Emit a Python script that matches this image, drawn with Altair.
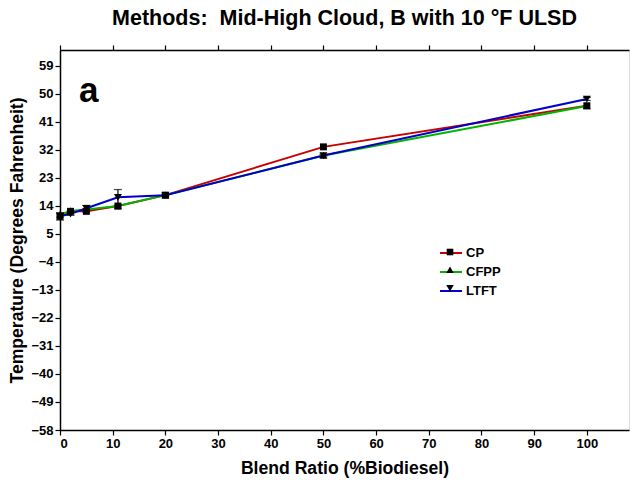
import altair as alt
import pandas as pd

blend = [0, 2, 5, 11, 20, 50, 100]
cp = [10.6, 12.2, 12.2, 13.9, 17.4, 32.9, 46.1]
cfpp = [11.2, 12.3, 12.8, 13.9, 17.4, 30.1, 46.0]
ltft = [10.6, 11.4, 13.2, 16.7, 17.4, 30.1, 48.3]
ltft_err = [1.2, 0.5, 0.9, 2.5, 0.3, 0.4, 0.5]

series = ["CP", "CFPP", "LTFT"]
colors = ["#c80000", "#00b400", "#0000c8"]
# small glyphs inside a unit box, so legend rows of both legends share one height
shapes = [
    "M-0.3,-0.3H0.3V0.3H-0.3Z",
    "M0,-0.32L0.34,0.28L-0.34,0.28Z",
    "M0,0.32L0.34,-0.28L-0.34,-0.28Z",
]
y_ticks = list(range(-58, 60, 9))
x_ticks = list(range(0, 101, 10))

# marker keys differ from line keys so the two legends are not merged
marker_keys = [s + " " for s in series]

rows = []
for name, mk, vals in zip(series, marker_keys, [cp, cfpp, ltft]):
    for b, v in zip(blend, vals):
        rows.append({"blend": b, "temp": v, "method": name, "marker": mk,
                     "order": series.index(name)})
df = pd.DataFrame(rows)

err = pd.DataFrame({
    "blend": blend,
    "temp": [v - e for v, e in zip(ltft, ltft_err)],
    "hi": [v + e for v, e in zip(ltft, ltft_err)],
})

FONT = "Liberation Sans"

xscale = alt.Scale(domain=[0, 108], nice=False, zero=False)
yscale = alt.Scale(domain=[-58, 64], nice=False, zero=False)

yaxis = alt.Axis(values=y_ticks, title="Temperature (Degrees Fahrenheit)", grid=False,
                 labelFontSize=13, labelFontWeight="bold", labelFont=FONT,
                 titleFontSize=17.6, titleFontWeight="bold", titleFont=FONT,
                 tickSize=5, domainColor="black", tickColor="black",
                 domainWidth=1.5, tickWidth=1.2, labelColor="black",
                 titleColor="black", labelPadding=2, titlePadding=4.5,
                 labelOverlap=False)

x_plain = alt.X("blend:Q", scale=xscale, axis=None)
y_enc = alt.Y("temp:Q", scale=yscale, axis=yaxis)

xenc = alt.X("blend:Q", scale=xscale,
             axis=alt.Axis(values=x_ticks, title="Blend Ratio (%Biodiesel)", grid=False,
                           labelFontSize=13, labelFontWeight="bold", labelFont=FONT,
                           titleFontSize=17.6, titleFontWeight="bold", titleFont=FONT,
                           tickSize=5, domainColor="black", tickColor="black",
                           domainWidth=1.5, tickWidth=1.2, labelColor="black",
                           titleColor="black", labelPadding=2, titlePadding=9,
                           labelOverlap=False))

color_scale = alt.Scale(domain=series, range=colors)
shape_scale = alt.Scale(domain=marker_keys, range=shapes)

top = alt.Chart(df).mark_point(opacity=0).encode(
    x=alt.X("blend:Q", scale=xscale,
            axis=alt.Axis(orient="top", values=x_ticks, labels=False, title=None, grid=False,
                          tickSize=5, domainColor="black", tickColor="black",
                          domainWidth=1.5, tickWidth=1.2)),
    y=y_enc,
)

ROWPAD = -5.7
lines = alt.Chart(df).mark_line(strokeWidth=2).encode(
    x=xenc, y=y_enc,
    color=alt.Color("method:N", scale=color_scale, sort=series,
                    legend=alt.Legend(title=None, orient="none", legendX=379, legendY=191,
                                      symbolType="stroke", symbolSize=484, symbolStrokeWidth=2,
                                      labelFontSize=13, labelFontWeight="bold", labelFont=FONT,
                                      labelColor="black", rowPadding=ROWPAD, labelOffset=3,
                                      padding=0)),
    detail="method:N",
    order=alt.Order("order:Q"),
)

errbars = alt.Chart(err).mark_errorbar(ticks=alt.TickConfig(size=8, color="black", thickness=1.2),
                                       color="black", thickness=1.2).encode(
    x=x_plain,
    y=y_enc,
    y2="hi:Q",
)

points = alt.Chart(df).mark_point(filled=True, opacity=1, color="black", size=540).encode(
    x=x_plain,
    y=y_enc,
    shape=alt.Shape("marker:N", scale=shape_scale, sort=marker_keys,
                    legend=alt.Legend(title=None, orient="none", legendX=379, legendY=191,
                                      symbolSize=484, symbolFillColor="black",
                                      symbolStrokeWidth=0, labelExpr="''",
                                      labelFontSize=13, labelFont=FONT,
                                      rowPadding=ROWPAD, labelOffset=3, padding=0)),
)

label_df = pd.DataFrame({"blend": [3.6], "temp": [47.4], "txt": ["a"]})
label = alt.Chart(label_df).mark_text(font=FONT, fontSize=35, fontWeight="bold",
                                      align="left", baseline="alphabetic", color="black").encode(
    x=x_plain, y=y_enc, text="txt:N")

chart = alt.layer(top, lines, errbars, points, label).resolve_axis(x="independent").properties(
    width=569, height=380,
    title=alt.TitleParams("Methods:\u00a0 Mid-High Cloud, B with 10\u00a0°F ULSD", font=FONT,
                          fontSize=21.5, fontWeight="bold", color="black", anchor="middle",
                          offset=15),
    autosize=alt.AutoSizeParams(type="none"),
    padding={"left": 60, "top": 50, "right": 1, "bottom": 53},
).configure_view(stroke="black", strokeWidth=1.5).configure(background="white")

chart.save("out.html", embed_options={"renderer": "svg", "actions": False})
